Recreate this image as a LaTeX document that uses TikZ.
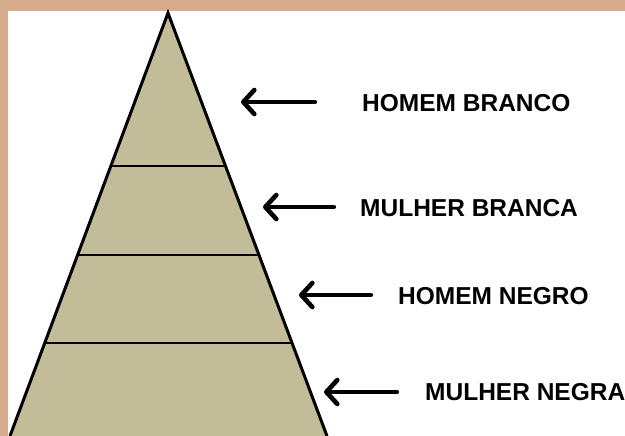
\documentclass[tikz,border=0pt]{standalone}
\usepackage{fontspec}
\setmainfont{Liberation Sans}
\usetikzlibrary{arrows.meta}
\definecolor{tanborder}{RGB}{214,172,140}
\definecolor{pyrfill}{RGB}{194,188,152}
\tikzset{
  layerline/.style={line width=2.2pt},
  pointer/.style={line width=4.2pt, line cap=round, -{Straight Barb[length=11pt, width=24pt, round, line width=4.6pt]}},
  caste/.style={anchor=west, font=\bfseries\fontsize{24.5}{28}\selectfont, inner sep=0pt},
}
\begin{document}
\begin{tikzpicture}[x=1pt,y=-1pt]
\useasboundingbox (0,0) rectangle (625,436);
\fill[tanborder] (0,0) rectangle (625,436);
\fill[white] (8,11) rectangle (625,436);
% pyramid
\coordinate (apex) at (168,13);
\coordinate (bl) at (10,436);
\coordinate (br) at (327,436);
\fill[pyrfill] (bl) -- (apex) -- (br) -- cycle;
\draw[line width=3pt, line join=miter] (bl) -- (apex) -- (br);
% layer lines
\coordinate (l1a) at (111.9,166); \coordinate (l1b) at (225.2,166);
\coordinate (l2a) at (78.6,255); \coordinate (l2b) at (258.9,255);
\coordinate (l3a) at (45.7,343); \coordinate (l3b) at (292.2,343);
\draw[layerline] (l1a) -- (l1b);
\draw[layerline] (l2a) -- (l2b);
\draw[layerline] (l3a) -- (l3b);
% labels
\node[caste] (t1) at (362,103) {HOMEM BRANCO};
\node[caste] (t2) at (360,208) {MULHER BRANCA};
\node[caste] (t3) at (398,296) {HOMEM NEGRO};
\node[caste] (t4) at (425,392) {MULHER NEGRA};
% arrows
\coordinate (a1s) at (315,102); \coordinate (a1e) at (241,102);
\coordinate (a2s) at (334,207); \coordinate (a2e) at (263,207);
\coordinate (a3s) at (371,295); \coordinate (a3e) at (299,295);
\coordinate (a4s) at (397,392); \coordinate (a4e) at (324,392);
\draw[pointer] (a1s) -- (a1e);
\draw[pointer] (a2s) -- (a2e);
\draw[pointer] (a3s) -- (a3e);
\draw[pointer] (a4s) -- (a4e);
\end{tikzpicture}
\end{document}
